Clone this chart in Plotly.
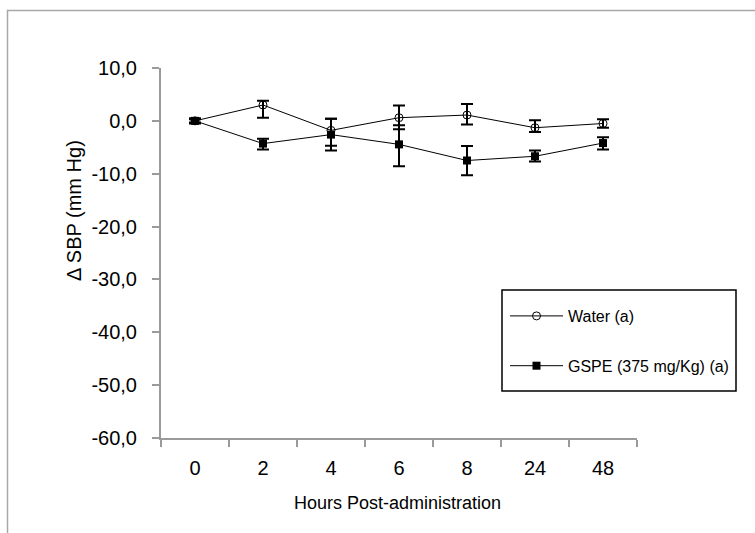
import plotly.graph_objects as go

# Time points (hours after administration)
hours = ["0", "2", "4", "6", "8", "24", "48"]

# Change in systolic blood pressure (mm Hg), mean values
water_mean = [0.0, 3.0, -1.8, 0.6, 1.1, -1.3, -0.5]
water_err_plus = [0.3, 0.8, 2.2, 2.3, 2.1, 1.4, 0.8]
water_err_minus = [0.3, 2.4, 2.9, 2.2, 1.8, 0.8, 0.8]

gspe_mean = [0.0, -4.3, -2.6, -4.45, -7.5, -6.7, -4.2]
gspe_err_plus = [0.5, 0.9, 3.0, 3.6, 2.75, 1.1, 1.1]
gspe_err_minus = [0.5, 1.1, 3.0, 4.15, 2.8, 1.0, 1.2]

y_ticks = [-60, -50, -40, -30, -20, -10, 0, 10]
y_tick_text = ["-60,0", "-50,0", "-40,0", "-30,0", "-20,0", "-10,0", "0,0", "10,0"]

FONT = "Liberation Sans, Arial, sans-serif"
AXIS_GRAY = "#9a9a9a"

W, H = 755, 533
L, R, T, B = 161, 118, 68, 95
PW, PH = W - L - R, H - T - B


def px_to_paper_x(px):
    return (px - L) / PW


def px_to_paper_y(py):
    return (H - B - py) / PH


fig = go.Figure()

fig.add_trace(go.Scatter(
    x=hours, y=water_mean, name="Water (a)", mode="lines+markers",
    line=dict(color="black", width=1),
    marker=dict(symbol="circle-open", size=8, color="black", line=dict(width=1)),
    error_y=dict(type="data", symmetric=False, array=water_err_plus,
                 arrayminus=water_err_minus, color="black", thickness=2, width=6),
    legendgroup="w",
))

fig.add_trace(go.Scatter(
    x=hours, y=gspe_mean, name="GSPE (375 mg/Kg) (a)", mode="lines+markers",
    line=dict(color="black", width=1),
    marker=dict(symbol="square", size=8, color="black"),
    error_y=dict(type="data", symmetric=False, array=gspe_err_plus,
                 arrayminus=gspe_err_minus, color="black", thickness=2, width=6),
    legendgroup="g",
))

fig.update_layout(
    width=W, height=H,
    margin=dict(l=L, r=R, t=T, b=B),
    paper_bgcolor="white", plot_bgcolor="white",
    font=dict(family=FONT, color="black"),
    showlegend=True,
    legend=dict(
        x=px_to_paper_x(505), y=px_to_paper_y(299), xanchor="left", yanchor="top",
        borderwidth=0, bgcolor="rgba(0,0,0,0)",
        font=dict(size=16, family=FONT), tracegroupgap=26,
        traceorder="grouped", itemwidth=53,
    ),
    xaxis=dict(
        type="category", categoryorder="array", categoryarray=hours,
        range=[-0.5, 6.5], tickson="boundaries",
        showline=True, linecolor=AXIS_GRAY, linewidth=2,
        ticks="outside", ticklen=7, tickcolor=AXIS_GRAY, tickwidth=2,
        showgrid=False, zeroline=False,
        tickfont=dict(size=20, family=FONT), ticklabelstandoff=11,
    ),
    yaxis=dict(
        range=[-60, 10], tickvals=y_ticks, ticktext=y_tick_text,
        showline=True, linecolor=AXIS_GRAY, linewidth=2,
        ticks="outside", ticklen=7, tickcolor=AXIS_GRAY, tickwidth=2,
        showgrid=False, zeroline=False,
        tickfont=dict(size=20, family=FONT), ticklabelstandoff=11,
    ),
    annotations=[
        dict(text="Hours Post-administration", xref="paper", yref="paper",
             x=px_to_paper_x(397), y=px_to_paper_y(503), showarrow=False,
             xanchor="center", yanchor="middle", font=dict(size=18, family=FONT)),
        dict(text="Δ SBP (mm Hg)", xref="paper", yref="paper",
             x=px_to_paper_x(74), y=px_to_paper_y(211), showarrow=False,
             textangle=-90, xanchor="center", yanchor="middle",
             font=dict(size=20, family=FONT)),
    ],
    shapes=[
        # chart-area frame
        dict(type="rect", xref="paper", yref="paper", layer="below",
             x0=px_to_paper_x(7.5), x1=px_to_paper_x(770),
             y0=px_to_paper_y(560), y1=px_to_paper_y(10.5),
             line=dict(color="#a8a8a8", width=1.5)),
        # legend frame
        dict(type="rect", xref="paper", yref="paper", layer="below",
             x0=px_to_paper_x(502), x1=px_to_paper_x(736),
             y0=px_to_paper_y(391), y1=px_to_paper_y(290),
             line=dict(color="black", width=1.5)),
    ],
)

fig.write_html("out.html")
